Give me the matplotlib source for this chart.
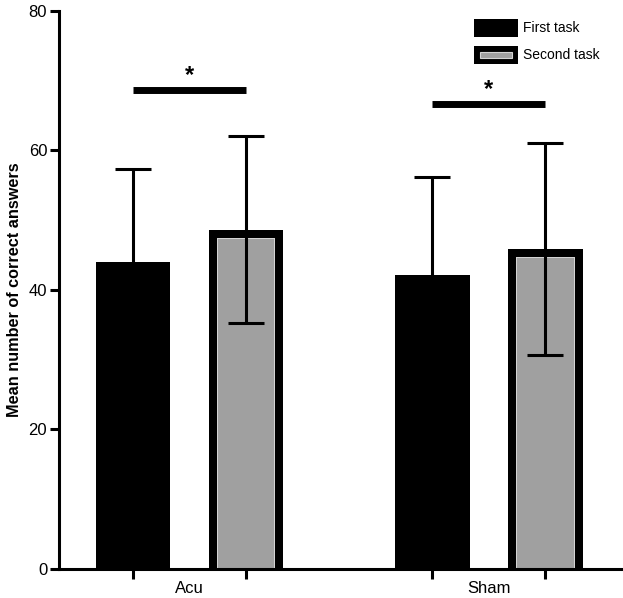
import matplotlib.pyplot as plt
from matplotlib.patches import Rectangle

plt.rcParams['font.family'] = ['Liberation Sans', 'DejaVu Sans']

groups = ["Acu", "Sham"]
first_mean = [43.9, 42.1]
first_sd = [13.4, 14.1]
second_mean = [48.6, 45.8]
second_sd = [13.4, 15.2]
sig_y = [68.6, 66.6]
legend_labels = ["First task", "Second task"]

first_x = [0.0, 2.65]
second_x = [1.0, 3.65]
group_x = [0.5, 3.15]
width = 0.66
gray = "#a0a0a0"
light = "#d4d4d4"
px = 0.72  # points per pixel at dpi 100
below = 3  # bars start under the axis so their bottom border is hidden

fig = plt.figure(figsize=(6.23, 5.98), dpi=100)
ax = fig.add_axes([59 / 623, 1 - 568.7 / 598, (622 - 59) / 623, (568.7 - 10.7) / 598])

# first task bars (lower half of the error bar disappears in the black bar)
ax.bar(first_x, first_mean, width, color="black", zorder=2)
ax.errorbar(first_x, first_mean, yerr=first_sd, fmt="none", ecolor="black",
            elinewidth=2.2, capsize=13, capthick=2.2, zorder=3)

# second task bars: gray face, light inner line, thick black border drawn inside
heights = [m + below for m in second_mean]
inner = ax.bar(second_x, heights, width, bottom=-below, facecolor=gray, edgecolor=light,
               linewidth=2 * 9 * px, zorder=2)
outer = ax.bar(second_x, heights, width, bottom=-below, facecolor="none", edgecolor="black",
               linewidth=2 * 8 * px, zorder=2.1)
for bars in (inner, outer):
    for p, x, m in zip(bars, second_x, second_mean):
        clip = Rectangle((x - width / 2, 0), width, m, transform=ax.transData)
        p.set_clip_path(clip)
ax.errorbar(second_x, second_mean, yerr=second_sd, fmt="none", ecolor="black",
            elinewidth=2.2, capsize=13, capthick=2.2, zorder=3)

# significance bars
for x1, x2, y in zip(first_x, second_x, sig_y):
    ax.plot([x1, x2], [y, y], color="black", lw=5, solid_capstyle="butt", zorder=3)
    ax.text((x1 + x2) / 2, y + 0.5, "*", ha="center", va="bottom", fontsize=17,
            fontweight="bold")

ax.set_xlim(-0.655, 4.327)
ax.set_ylim(0, 80)
ax.set_yticks([0, 20, 40, 60, 80])
ax.set_xticks(first_x + second_x)
ax.set_xticklabels([])
ax.set_xticks(group_x, minor=True)
ax.set_xticklabels(groups, minor=True, fontsize=12)
ax.tick_params(axis="x", which="major", length=7, width=2.2, direction="out")
ax.tick_params(axis="x", which="minor", length=0, pad=9)
ax.tick_params(axis="y", length=6.5, width=2.2, direction="out", labelsize=12, pad=2)

for s in ["top", "right"]:
    ax.spines[s].set_visible(False)
for s in ["left", "bottom"]:
    ax.spines[s].set_linewidth(2.2)

ax.set_ylabel("Mean number of correct answers", fontsize=11.7, fontweight="bold", labelpad=5)


# legend
def fx(x):
    return x / 623


def fy(y):
    return 1 - y / 598


fig.add_artist(Rectangle((fx(474), fy(37)), fx(44), 18 / 598, facecolor="black",
                         edgecolor="none", transform=fig.transFigure))
fig.add_artist(Rectangle((fx(474), fy(64)), fx(44), 18 / 598, facecolor="black",
                         edgecolor="none", transform=fig.transFigure))
fig.add_artist(Rectangle((fx(480), fy(58)), fx(32), 6 / 598, facecolor=gray,
                         edgecolor=light, linewidth=0.8, transform=fig.transFigure))
for lbl, yc in zip(legend_labels, [28, 55]):
    fig.text(fx(523), fy(yc), lbl, ha="left", va="center", fontsize=10)

fig.savefig("out.png", dpi=100)
